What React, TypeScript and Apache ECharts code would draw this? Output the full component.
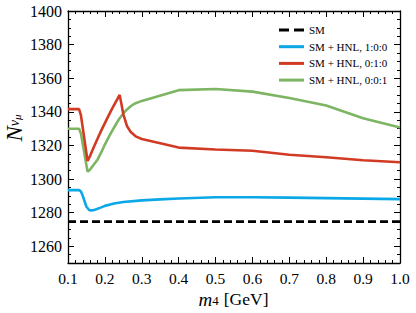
import React, { useEffect, useRef } from "react";
import * as echarts from "echarts";

const SERIF = "'Liberation Serif', 'DejaVu Serif', serif";

// tick labels
const xTicks = [0.1, 0.2, 0.3, 0.4, 0.5, 0.6, 0.7, 0.8, 0.9, 1.0];
const yMajor = [1260, 1280, 1300, 1320, 1340, 1360, 1380, 1400];

// legend names
const seriesNames = ["SM", "SM + HNL, 1:0:0", "SM + HNL, 0:1:0", "SM + HNL, 0:0:1"];

// SM
const smM = [0.1, 1.0];
const smN = [1274.6, 1274.6];

// SM + HNL 1:0:0 (blue)
const blueM = [0.1, 0.13, 0.135, 0.14, 0.15, 0.158, 0.165, 0.175, 0.19, 0.2, 0.225, 0.25, 0.3, 0.35, 0.4, 0.5, 0.6, 0.7, 0.8, 0.9, 1.0];
const blueN = [1293.4, 1293.4, 1292.6, 1290, 1283.5, 1281.4, 1281.3, 1281.9, 1283.1, 1284, 1285.4, 1286.3, 1287.3, 1287.9, 1288.4, 1289.1, 1289.1, 1288.9, 1288.6, 1288.3, 1288];

// SM + HNL 0:1:0 (red)
const redM = [0.1, 0.13, 0.135, 0.153, 0.16, 0.17, 0.18, 0.19, 0.2, 0.21, 0.22, 0.23, 0.24, 0.245, 0.25, 0.26, 0.27, 0.285, 0.3, 0.4, 0.5, 0.6, 0.7, 0.8, 0.9, 1.0];
const redN = [1341.6, 1341.6, 1338, 1310.7, 1313.8, 1319, 1324, 1328.8, 1333.3, 1337.7, 1342, 1346, 1350, 1344.5, 1338.5, 1331.5, 1328, 1325.2, 1323.8, 1318.7, 1317.6, 1316.8, 1314.4, 1312.9, 1311.2, 1310];

// SM + HNL 0:0:1 (green)
const greenM = [0.1, 0.13, 0.135, 0.153, 0.16, 0.17, 0.18, 0.19, 0.2, 0.21, 0.22, 0.23, 0.24, 0.25, 0.26, 0.27, 0.28, 0.3, 0.4, 0.5, 0.6, 0.7, 0.8, 0.9, 1.0];
const greenN = [1329.9, 1329.9, 1327, 1304.4, 1305.6, 1308.6, 1311.5, 1315.8, 1320.5, 1324.8, 1328.8, 1332.6, 1336.2, 1339, 1341.4, 1343.3, 1344.8, 1346.5, 1352.9, 1353.6, 1352, 1348.2, 1343.7, 1336.2, 1330.6];

const zip = (a: number[], b: number[]) => a.map((v, i) => [v, b[i]]);

const blk = "#000";

function xAxisDef(position: "bottom" | "top", labels: boolean) {
  return {
    type: "value",
    position,
    min: 0.1,
    max: 1.0,
    interval: 0.1,
    axisLine: { show: true, onZero: false, lineStyle: { color: blk, width: 1.3 } },
    axisTick: { show: true, inside: true, length: 6, lineStyle: { color: blk, width: 1 } },
    minorTick: { show: true, splitNumber: 5, length: 3, lineStyle: { color: blk, width: 1 } },
    splitLine: { show: false },
    minorSplitLine: { show: false },
    axisLabel: {
      show: labels,
      margin: 7,
      color: blk,
      fontSize: 15.5,
      fontFamily: SERIF,
      formatter: (v: number) => v.toFixed(1),
    },
  };
}

function yAxisDef(position: "left" | "right", major: boolean, labels: boolean) {
  return {
    type: "value",
    position,
    min: 1250,
    max: 1400,
    interval: 5,
    axisLine: { show: major, onZero: false, lineStyle: { color: blk, width: 1.3 } },
    axisTick: major
      ? { show: true, inside: true, length: 6, customValues: yMajor, lineStyle: { color: blk, width: 1 } }
      : { show: true, inside: true, length: 3, lineStyle: { color: blk, width: 1 } },
    splitLine: { show: false },
    axisLabel: labels
      ? {
          show: true,
          margin: 6,
          color: blk,
          fontSize: 16,
          fontFamily: SERIF,
          customValues: yMajor,
          formatter: (v: number) => String(Math.round(v)),
        }
      : { show: false },
  };
}

export default function App() {
  const ref = useRef<HTMLDivElement>(null);
  useEffect(() => {
    document.body.style.margin = "0";
    if (!ref.current) return;
    const chart = echarts.init(ref.current, null, { renderer: "svg" });
    const colors = ["#000000", "#0AA8E6", "#D13B24", "#7DB563"];
    const xs = [smM, blueM, redM, greenM];
    const ys = [smN, blueN, redN, greenN];
    const solidIcon = "path://M0,0h25v3h-25z";
    const dashIcon = "path://M0,0h10v3h-10zM15,0h10v3h-10z";
    chart.setOption({
      animation: false,
      backgroundColor: "#fff",
      grid: { left: 68, right: 16, top: 11, bottom: 50, containLabel: false },
      xAxis: [xAxisDef("bottom", true), xAxisDef("top", false)],
      yAxis: [
        yAxisDef("left", true, true),
        yAxisDef("left", false, false),
        yAxisDef("right", true, false),
        yAxisDef("right", false, false),
      ],
      legend: {
        orient: "vertical",
        left: 274,
        top: 19,
        itemWidth: 25,
        itemHeight: 3,
        itemGap: 4.7,
        textStyle: { fontSize: 11, fontFamily: SERIF, color: blk, lineHeight: 12 },
        data: seriesNames.map((name, i) => ({ name, icon: i === 0 ? dashIcon : solidIcon })),
      },
      series: seriesNames.map((name, i) => ({
        name,
        type: "line",
        xAxisIndex: 0,
        yAxisIndex: 0,
        symbol: "none",
        smooth: false,
        color: colors[i],
        itemStyle: { color: colors[i] },
        lineStyle: {
          color: colors[i],
          width: 2.6,
          type: i === 0 ? [8, 4] : "solid",
        },
        z: i === 0 ? 2 : 3 + (i === 2 ? 1 : 0),
        data: zip(xs[i], ys[i]),
      })),
      graphic: [
        {
          type: "text",
          x: 13,
          y: 128,
          rotation: Math.PI / 2,
          style: {
            text: "{n|N}{s|ν}{u|μ}",
            align: "center",
            verticalAlign: "middle",
            rich: {
              n: { fontSize: 23, fontStyle: "italic", fontFamily: SERIF, color: blk, lineHeight: 21, padding: [0, 0, 4, 0], verticalAlign: "top" },
              s: { fontSize: 14, fontStyle: "italic", fontFamily: SERIF, color: blk, lineHeight: 14, padding: [0, 0, 2.5, 0], verticalAlign: "bottom" },
              u: { fontSize: 11, fontStyle: "italic", fontFamily: SERIF, color: blk, lineHeight: 11, padding: [0, 0, 1, 0], verticalAlign: "bottom" },
            },
          },
        },
        {
          type: "text",
          x: 233.5,
          y: 299,
          style: {
            text: "{m|m}{s|4}{g|[GeV]}",
            align: "center",
            verticalAlign: "middle",
            rich: {
              m: { fontSize: 19, fontStyle: "italic", fontFamily: SERIF, color: blk, lineHeight: 18, padding: [0, 0, 4, 0], verticalAlign: "top" },
              s: { fontSize: 13, fontFamily: SERIF, color: blk, lineHeight: 13, padding: [0, 0, 1, 0], verticalAlign: "bottom" },
              g: { fontSize: 17.5, fontFamily: SERIF, color: blk, lineHeight: 18, padding: [0, 0, 4, 5], verticalAlign: "top" },
            },
          },
        },
      ],
    });
    return () => chart.dispose();
  }, []);
  return <div ref={ref} style={{ width: 416, height: 313 }} />;
}
